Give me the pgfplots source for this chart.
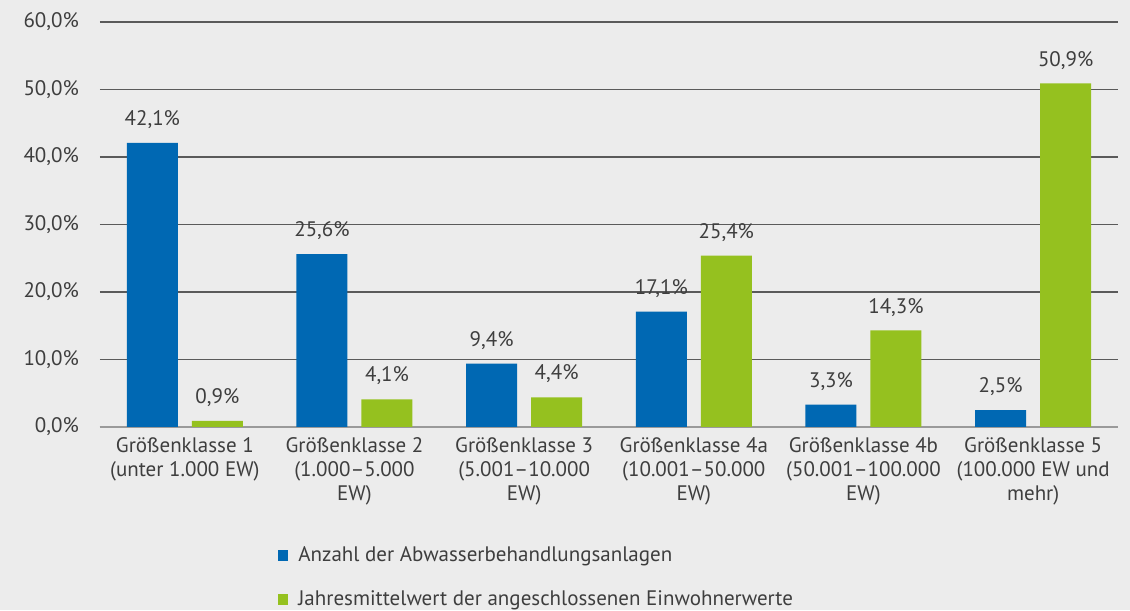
\documentclass[border=0pt]{standalone}
\usepackage{pgfplots}
\pgfplotsset{compat=1.18}
\usepackage{fontspec}
\setmainfont{PT Sans}
\usetikzlibrary{backgrounds,calc}
\definecolor{bg}{HTML}{ECECEC}
\definecolor{txt}{HTML}{3E3E3E}
\definecolor{cblue}{HTML}{0068B3}
\definecolor{cgreen}{HTML}{95C11F}
\definecolor{gridc}{HTML}{5A5A5A}
\definecolor{base}{HTML}{9A9A9A}
\pgfplotstableread{
x a b
0 42.1 0.9
1 25.6 4.1
2 9.4 4.4
3 17.1 25.4
4 3.3 14.3
5 2.5 50.9
}\datatable
\begin{document}
\fontsize{21}{24}\selectfont
\begin{tikzpicture}
\begin{axis}[
  name=ax,
  at={(0,0)}, anchor=south west,
  scale only axis,
  width=1018pt, height=405pt,
  xmin=-0.5, xmax=5.5,
  ymin=0, ymax=60,
  ytick={0,10,...,60},
  xtick=data,
  xticklabels={{Größenklasse 1\\(unter 1.000 EW)},{Größenklasse 2\\(1.000–5.000\\EW)},{Größenklasse 3\\(5.001–10.000\\EW)},{Größenklasse 4a\\(10.001–50.000\\EW)},{Größenklasse 4b\\(50.001–100.000\\EW)},{Größenklasse 5\\(100.000 EW und\\mehr)}},
  xticklabel style={align=center, text=txt, font=\fontsize{21}{24}\selectfont, yshift=-3pt},
  yticklabel style={text=txt, font=\fontsize{21}{24}\selectfont, xshift=-14pt},
  /pgf/number format/assume math mode=true,
  yticklabel={\pgfmathprintnumber[fixed,fixed zerofill,precision=1,use comma]{\tick}\%},
  major tick length=0pt,
  ymajorgrids, xmajorgrids=false,
  grid style={draw=gridc, line width=1.2pt},
  axis x line=bottom,
  axis y line=left,
  y axis line style={draw=none},
  x axis line style={draw=base, line width=1.5pt, -},
  ybar=14pt,
  bar width=51pt,
  nodes near coords={\pgfmathprintnumber[fixed,fixed zerofill,precision=1,use comma]{\pgfplotspointmeta}\%},
  nodes near coords style={text=txt, font=\fontsize{21}{24}\selectfont, anchor=south, yshift=7pt},
  legend style={draw=none, fill=none, at={(0.175,-0.29)}, anchor=north west, font=\fontsize{21}{24}\selectfont, text=txt, row sep=22pt, inner sep=0pt, /tikz/every odd column/.append style={column sep=8pt}},
  legend cell align=left,
  legend image code/.code={\fill[#1] (0pt,-5.5pt) rectangle (10pt,5.5pt);},
]
\addplot[draw=none, fill=cblue] table[x=x,y=a] {\datatable};
\addlegendentry{Anzahl der Abwasserbehandlungsanlagen}
\addplot[draw=none, fill=cgreen] table[x=x,y=b] {\datatable};
\addlegendentry{Jahresmittelwert der angeschlossenen Einwohnerwerte}
\end{axis}
\begin{scope}[on background layer]
\fill[bg] ($(ax.south west)+(-100pt,-183pt)$) rectangle ($(ax.south west)+(1030pt,427pt)$);
\end{scope}
\end{tikzpicture}
\end{document}
